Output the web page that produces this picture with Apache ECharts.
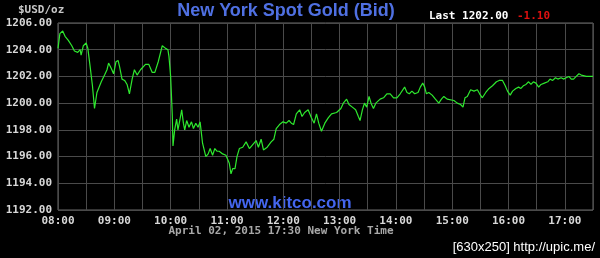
<!DOCTYPE html>
<html>
<head>
<meta charset="utf-8">
<script src="https://cdn.jsdelivr.net/npm/echarts@6/dist/echarts.min.js"></script>
<style>
html,body{margin:0;padding:0;background:#000;}
#c{width:600px;height:258px;}
</style>
</head>
<body>
<div id="c"></div>
<script>
// Minutes after 08:00 (New York time)
var minutes = [0,2,5,7.5,11,14.7,17.5,21,23.6,24.6,27,30,31.8,34.3,36.7,38.9,41.5,43.2,46.1,47.9,49.6,52.2,53.9,56.8,59.2,61.8,64,65.7,68.2,71,73.6,76.1,79,81.4,84.3,87.9,93.2,96.8,100.4,103.2,106.8,111.1,114.6,117.1,118.2,119.2,120,121.1,121.8,122.5,124.3,126.4,127.8,130,131.8,133.6,135,137.1,139.6,142.2,144.3,146.8,149.2,151.4,154,157.5,160,162.1,164.7,167.1,169.3,171.7,175.4,178.9,180.7,182.5,184.3,186.1,188.6,190.7,193.2,196.8,200.4,203.9,207.5,211.1,213.5,216.4,218.9,222.9,227.1,230,232.5,236,239.7,243.2,246.1,248.6,251,253.9,257.5,260,262.8,266.5,270,272.9,275.4,277.8,280.7,284.3,287.9,291.4,296.8,301.4,304,307.5,310,313.6,317.1,320,321.8,324.3,326.5,328.9,331.4,333.5,336.1,338.6,340.7,343.2,346.8,350.4,353.9,357.5,361.1,364.6,369.3,371.8,374.3,377.1,380,383.6,386,388.6,390.7,392.5,395,398.6,402.1,405.7,408.5,411.1,414.6,416.5,421.8,425.4,428.9,431.5,433.6,436.1,439.6,443.2,446.8,449.2,452.1,455.7,459.3,462.9,464.7,467.1,470,473.6,476.5,478.9,481.8,484.3,487.8,490.7,493.2,495.7,498.6,501.4,503.9,506.4,509.2,512.1,514.6,518.2,521.8,524.2,527.1,530,532.5,536.1,538.6,541.4,544.3,546.8,549.3,552.1,555,557.5,562.9,570];
// Spot gold bid, USD/oz
var prices = [1204.1,1205.2,1205.4,1205.0,1204.7,1204.3,1203.9,1203.8,1204.0,1203.6,1204.3,1204.5,1204.1,1202.7,1201.3,1199.6,1200.8,1201.1,1201.6,1201.7,1202.1,1202.5,1203.0,1202.6,1202.2,1203.1,1203.2,1202.7,1201.8,1201.7,1201.4,1200.7,1201.8,1202.5,1202.1,1202.5,1202.9,1202.9,1202.3,1202.3,1203.1,1204.3,1204.1,1204.0,1203.5,1202.7,1202.0,1200.2,1199.0,1196.8,1198.0,1198.8,1198.0,1198.8,1199.5,1198.5,1198.0,1198.7,1198.2,1198.6,1198.1,1198.5,1198.2,1198.6,1197.0,1196.0,1196.2,1196.6,1196.1,1196.6,1196.4,1196.4,1196.2,1196.1,1196.0,1195.5,1194.7,1195.1,1195.1,1196.0,1196.6,1196.7,1197.1,1196.6,1196.9,1197.2,1196.7,1197.3,1196.5,1196.7,1197.1,1197.3,1198.1,1198.4,1198.6,1198.5,1198.7,1198.5,1198.4,1199.2,1199.5,1199.0,1199.3,1199.5,1198.9,1198.5,1199.2,1198.5,1197.9,1198.5,1198.9,1199.2,1199.3,1199.6,1200.0,1200.3,1199.9,1199.7,1199.5,1199.0,1198.7,1199.5,1200.0,1199.7,1200.5,1200.0,1199.6,1200.0,1199.9,1200.3,1200.4,1200.7,1200.7,1200.4,1200.4,1200.7,1201.2,1200.8,1200.7,1200.9,1200.7,1200.8,1201.2,1201.5,1201.2,1200.7,1200.8,1200.6,1200.3,1200.0,1200.3,1200.5,1200.3,1200.2,1200.2,1200.0,1199.9,1199.7,1200.4,1200.5,1201.0,1200.9,1201.0,1200.7,1200.4,1200.8,1201.1,1201.3,1201.2,1201.6,1201.7,1201.7,1201.3,1200.9,1200.6,1200.9,1201.1,1201.2,1201.1,1201.3,1201.4,1201.6,1201.4,1201.6,1201.5,1201.2,1201.4,1201.5,1201.6,1201.8,1201.7,1201.9,1201.8,1201.9,1201.8,1201.9,1202.0,1201.8,1201.8,1202.0,1202.2,1202.1,1202.0,1202.0];
var yTicks = [1192,1194,1196,1198,1200,1202,1204,1206];
var xTickLabels = ['08:00','09:00','10:00','11:00','12:00','13:00','14:00','15:00','16:00','17:00'];
var titleText = 'New York Spot Gold (Bid)';
var unitText = '$USD/oz';
var lastText = 'Last 1202.00';
var changeText = '-1.10';
var footerText = 'April 02, 2015 17:30 New York Time';
var siteText = 'www.kitco.com';
var stampText = '[630x250] http://upic.me/';

var mono = '"DejaVu Sans Mono", "Liberation Mono", monospace';
var series = minutes.map(function (m, i) { return [m, prices[i]]; });

var chart = echarts.init(document.getElementById('c'), null, {renderer: 'canvas'});
chart.setOption({
  backgroundColor: '#000',
  animation: false,
  grid: {left: 58, right: 7, top: 23, bottom: 48, show: true, borderColor: '#6a6a6a', borderWidth: 1},
  xAxis: {
    type: 'value', min: 0, max: 570, interval: 30,
    axisLine: {show: false}, axisTick: {show: false},
    splitLine: {show: true, lineStyle: {color: '#4a4a4a', width: 1}},
    axisLabel: {
      color: '#d8d8d8', fontFamily: mono, fontWeight: 'bold', fontSize: 11, margin: 6,
      showMaxLabel: true, showMinLabel: true,
      formatter: function (v) { return v % 60 === 0 ? (xTickLabels[v / 60] || '') : ''; }
    }
  },
  yAxis: {
    type: 'value', min: yTicks[0], max: yTicks[yTicks.length - 1], interval: 2,
    axisLine: {show: false}, axisTick: {show: false},
    splitLine: {show: true, lineStyle: {color: '#4a4a4a', width: 1}},
    axisLabel: {color: '#d8d8d8', fontFamily: mono, fontWeight: 'bold', fontSize: 11, margin: 6,
      formatter: function (v) { return v.toFixed(2); }}
  },
  series: [{
    type: 'line', data: series, showSymbol: false, symbol: 'none',
    lineStyle: {color: '#2ee82e', width: 1.2}
  }],
  graphic: [
    {type: 'text', left: 18, top: 5, style: {text: unitText, fill: '#c8c8c8', font: 'bold 11px ' + mono}},
    {type: 'text', x: 286, y: 11, style: {text: titleText, fill: '#4f70e2', font: 'bold 18px "Liberation Sans", Arial, sans-serif', textAlign: 'center', textVerticalAlign: 'middle'}},
    {type: 'text', left: 429, top: 11, style: {text: lastText, fill: '#ffffff', font: 'bold 11px ' + mono}},
    {type: 'text', left: 517, top: 11, style: {text: changeText, fill: '#e01010', font: 'bold 11px ' + mono}},
    {type: 'text', x: 290, y: 203, style: {text: siteText, fill: '#4466ee', font: 'bold 17px "Liberation Sans", Arial, sans-serif', textAlign: 'center', textVerticalAlign: 'middle'}},
    {type: 'text', x: 281, y: 231.5, style: {text: footerText, fill: '#a8a8a8', font: 'bold 11px ' + mono, textAlign: 'center', textVerticalAlign: 'middle'}},
    {type: 'text', x: 595, y: 247.5, style: {text: stampText, fill: '#ffffff', font: '13px "Liberation Sans", Arial, sans-serif', textAlign: 'right', textVerticalAlign: 'middle'}}
  ]
});
</script>
</body>
</html>
